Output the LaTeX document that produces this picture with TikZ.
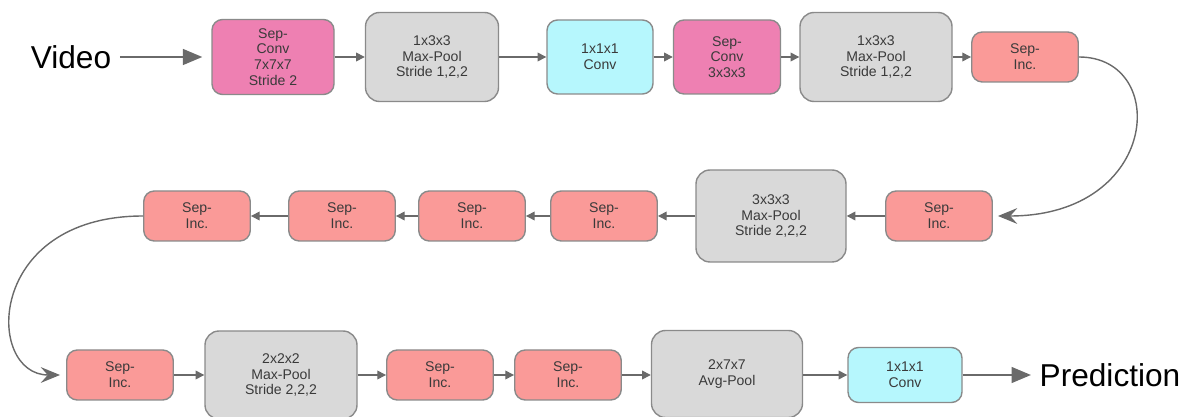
\documentclass[tikz,border=0pt]{standalone}
\usepackage{fontspec}
\setmainfont{Liberation Sans}
\usetikzlibrary{
    arrows.meta
}
\definecolor{convpink}{HTML}{EE80B2}
\definecolor{poolgray}{HTML}{D9D9D9}
\definecolor{onecyan}{HTML}{B6F7FD}
\definecolor{incred}{HTML}{FA9A98}
\definecolor{edgegray}{HTML}{8A8A8A}
\definecolor{arrowgray}{HTML}{6A6A6A}
\definecolor{textgray}{HTML}{3A3A3A}
\tikzset{
  block/.style={
    draw=edgegray,
    line width=0.8pt,
    rounded corners=6pt,
    align=center,
    inner sep=1pt,
    text=textgray,
    font=\fontsize{8}{9}\selectfont
  },
  convbox/.style={block, fill=convpink},
  poolbox/.style={block, fill=poolgray, rounded corners=8pt},
  onebox/.style={block, fill=onecyan},
  incbox/.style={block, fill=incred, minimum width=2.13cm, minimum height=1cm},
  bigtext/.style={font=\fontsize{18}{20}\selectfont, text=black},
  flow/.style={arrowgray, line width=0.8pt, -{Triangle[length=5pt,width=5pt]}},
  bigflow/.style={arrowgray, line width=1pt, -{Triangle[length=11pt,width=9pt]}},
  loopflow/.style={arrowgray, line width=0.8pt, -{Stealth[length=11pt,width=9pt,inset=4pt]}}
}

\begin{document}
\begin{tikzpicture}

    \useasboundingbox (0,0) rectangle (23.66,8.34);

    %-------------------------
    % first row
    %-------------------------
    \node[bigtext] (video) at (1.42,7.2) {Video};
    \node[convbox, minimum width=2.44cm, minimum height=1.5cm] (sc1) at (5.46,7.2) {Sep-\\Conv\\7x7x7\\Stride 2};
    \node[poolbox, minimum width=2.66cm, minimum height=1.78cm] (mp1) at (8.64,7.2) {1x3x3\\Max-Pool\\Stride 1,2,2};
    \node[onebox, minimum width=2.12cm, minimum height=1.48cm] (cv1) at (12.0,7.2) {1x1x1\\Conv};
    \node[convbox, minimum width=2.14cm, minimum height=1.48cm] (sc2) at (14.54,7.2) {Sep-\\Conv\\3x3x3};
    \node[poolbox, minimum width=3.04cm, minimum height=1.78cm] (mp2) at (17.52,7.2) {1x3x3\\Max-Pool\\Stride 1,2,2};
    \node[incbox] (in1) at (20.5,7.2) {Sep-\\Inc.};

    \draw[bigflow, shorten <=0.05cm, shorten >=0.18cm] (video.east) -- (sc1.west);
    \draw[flow] (sc1) -- (mp1);
    \draw[flow] (mp1) -- (cv1);
    \draw[flow] (cv1) -- (sc2);
    \draw[flow] (sc2) -- (mp2);
    \draw[flow] (mp2) -- (in1);

    %-------------------------
    % second row (right to left)
    %-------------------------
    \node[incbox] (in2) at (18.78,4.02) {Sep-\\Inc.};
    \node[poolbox, minimum width=3.0cm, minimum height=1.84cm] (mp3) at (15.42,4.02) {3x3x3\\Max-Pool\\Stride 2,2,2};
    \node[incbox] (in3) at (12.08,4.02) {Sep-\\Inc.};
    \node[incbox] (in4) at (9.44,4.02) {Sep-\\Inc.};
    \node[incbox] (in5) at (6.84,4.02) {Sep-\\Inc.};
    \node[incbox] (in6) at (3.94,4.02) {Sep-\\Inc.};

    \draw[loopflow, shorten >=0.1cm] (in1.east) .. controls (23.4,7.2) and (23.2,4.02) .. (in2.east);
    \draw[flow] (in2) -- (mp3);
    \draw[flow] (mp3) -- (in3);
    \draw[flow] (in3) -- (in4);
    \draw[flow] (in4) -- (in5);
    \draw[flow] (in5) -- (in6);

    %-------------------------
    % third row
    %-------------------------
    \node[incbox] (in7) at (2.4,0.84) {Sep-\\Inc.};
    \node[poolbox, minimum width=3.04cm, minimum height=1.76cm] (mp4) at (5.62,0.84) {2x2x2\\Max-Pool\\Stride 2,2,2};
    \node[incbox] (in8) at (8.8,0.84) {Sep-\\Inc.};
    \node[incbox] (in9) at (11.36,0.84) {Sep-\\Inc.};
    \node[poolbox, minimum width=3.02cm, minimum height=1.74cm] (ap1) at (14.54,0.86) {2x7x7\\Avg-Pool};
    \node[onebox, minimum width=2.28cm, minimum height=1.1cm] (cv2) at (18.1,0.84) {1x1x1\\Conv};
    \node[bigtext] (pred) at (22.2,0.84) {Prediction};

    \draw[loopflow, shorten >=0.12cm] (in6.west) .. controls (-0.3,4.02) and (-0.3,0.84) .. (in7.west);
    \draw[flow] (in7) -- (mp4);
    \draw[flow] (mp4) -- (in8);
    \draw[flow] (in8) -- (in9);
    \draw[flow] (in9.east) -- (ap1.west |- in9.east);
    \draw[flow] (ap1.east |- cv2.west) -- (cv2.west);
    \draw[bigflow, shorten >=0.05cm] (cv2.east) -- (pred.west);

\end{tikzpicture}
\end{document}
